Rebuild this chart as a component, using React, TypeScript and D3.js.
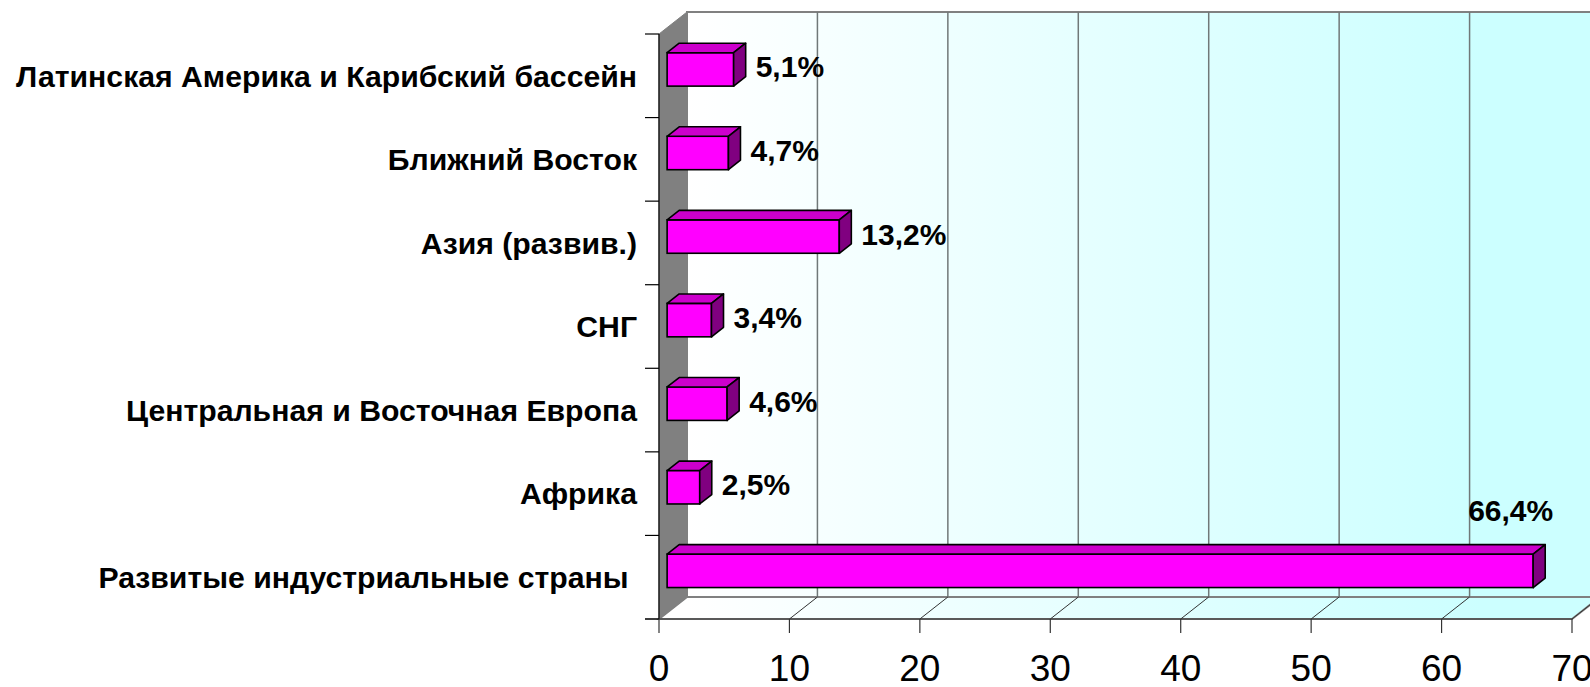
import React from "react";
import * as d3 from "d3";

const categories = [
  "Латинская Америка и Карибский бассейн",
  "Ближний Восток",
  "Азия (развив.)",
  "СНГ",
  "Центральная и Восточная Европа",
  "Африка",
  "Развитые индустриальные страны ",
];
const values = [5.1, 4.7, 13.2, 3.4, 4.6, 2.5, 66.4];
const xTicks = [0, 10, 20, 30, 40, 50, 60, 70];

const W = 1590;
const H = 687;
const FONT = "'Liberation Sans', Arial, sans-serif";

export default function App() {
  // front plane of the 3D box
  const x = d3.scaleLinear().domain([0, 70]).range([659, 1572]);
  const y = d3
    .scaleBand<string>()
    .domain(categories)
    .range([34, 619])
    .paddingInner(0.6)
    .paddingOuter(0.3);
  const step = y.step();
  const bw = y.bandwidth();

  // depth of the box
  const DX = 28;
  const DY = -22;
  const fFront = 0.29;
  const fBack = 0.72;
  const bfx = DX * fFront;
  const bfy = DY * fFront;
  const ddx = DX * (fBack - fFront);
  const ddy = DY * (fBack - fFront);

  const top = 34;
  const bottom = 619;
  const x0 = x(0);
  const xMax = x(70);

  const fmt = (v: number) => v.toFixed(1).replace(".", ",") + "%";
  const labelFs = 30;
  const catFs = 30.2;

  const boundaries = d3.range(categories.length + 1).map((i) => top + i * step);

  return (
    <svg
      width={W}
      height={H}
      style={{ position: "absolute", left: 0, top: 0, background: "#fff" }}
      fontFamily={FONT}
    >
      <defs>
        <linearGradient id="wallGrad" gradientUnits="userSpaceOnUse" x1={x0 + DX} y1={0} x2={1480} y2={0}>
          <stop offset="0" stopColor="#FFFFFF" />
          <stop offset="1" stopColor="#CCFFFF" />
        </linearGradient>
      </defs>
      <rect x={0} y={0} width={W} height={H} fill="#fff" />

      {/* back wall */}
      <rect
        x={x0 + DX}
        y={top + DY}
        width={xMax - x0}
        height={bottom - top}
        fill="url(#wallGrad)"
        stroke="#808080"
        strokeWidth={2}
      />
      {/* floor */}
      <polygon
        points={[
          [x0, bottom],
          [x0 + DX, bottom + DY],
          [xMax + DX, bottom + DY],
          [xMax, bottom],
        ]
          .map((p) => p.join(","))
          .join(" ")}
        fill="url(#wallGrad)"
        stroke="#808080"
        strokeWidth={2}
      />
      {/* side wall */}
      <polygon
        points={[
          [x0, top],
          [x0 + DX, top + DY],
          [x0 + DX, bottom + DY],
          [x0, bottom],
        ]
          .map((p) => p.join(","))
          .join(" ")}
        fill="#808080"
        stroke="#808080"
        strokeWidth={1}
      />
      {/* gridlines on back wall + floor */}
      {xTicks.slice(1).map((t) => (
        <g key={t}>
          <line
            x1={x(t) + DX}
            x2={x(t) + DX}
            y1={top + DY}
            y2={bottom + DY}
            stroke="#707878"
            strokeWidth={1.5}
          />
          <line x1={x(t)} y1={bottom} x2={x(t) + DX} y2={bottom + DY} stroke="#333" strokeWidth={1} />
        </g>
      ))}

      {/* axes */}
      <line x1={x0} x2={x0} y1={top} y2={bottom} stroke="#000" strokeWidth={1.2} />
      <line x1={x0 - 14} x2={xMax} y1={bottom} y2={bottom} stroke="#333" strokeWidth={1.2} />
      {boundaries.map((b, i) => (
        <line key={i} x1={x0 - 14} x2={x0} y1={b} y2={b} stroke="#000" strokeWidth={1.2} />
      ))}
      {xTicks.map((t) => (
        <g key={t}>
          <line x1={x(t)} x2={x(t)} y1={bottom} y2={bottom + 14} stroke="#333" strokeWidth={1.2} />
          <text x={x(t)} y={681} textAnchor="middle" fontSize={37} fill="#000">
            {t}
          </text>
        </g>
      ))}

      {/* category labels */}
      {categories.map((c) => (
        <text
          key={c}
          x={637}
          y={(y(c) as number) + bw / 2 + 10.8}
          textAnchor="end"
          fontSize={catFs}
          fontWeight="bold"
          fill="#000"
          style={{ whiteSpace: "pre" }}
        >
          {c}
        </text>
      ))}

      {/* bars */}
      {categories.map((c, i) => {
        const v = values[i];
        const xa = x(0) + bfx;
        const xb = x(v) + bfx;
        const ya = (y(c) as number) + bfy;
        const yb = ya + bw;
        const topFace = [
          [xa, ya],
          [xa + ddx, ya + ddy],
          [xb + ddx, ya + ddy],
          [xb, ya],
        ];
        const side = [
          [xb, ya],
          [xb + ddx, ya + ddy],
          [xb + ddx, yb + ddy],
          [xb, yb],
        ];
        const label = fmt(v);
        const estW = label.length * 0.6 * labelFs;
        const lx = xb + ddx + 10;
        const above = lx + estW > xMax;
        return (
          <g key={c}>
            <rect x={xa} y={ya} width={xb - xa} height={bw} fill="#FF00FF" stroke="#000" strokeWidth={1.6} />
            <polygon
              points={topFace.map((p) => p.join(",")).join(" ")}
              fill="#CC00CC"
              stroke="#000"
              strokeWidth={1.6}
              strokeLinejoin="round"
            />
            <polygon
              points={side.map((p) => p.join(",")).join(" ")}
              fill="#800080"
              stroke="#000"
              strokeWidth={1.6}
              strokeLinejoin="round"
            />
            {above ? (
              <text
                x={xb + ddx + 8}
                y={ya + ddy - 24}
                textAnchor="end"
                fontSize={labelFs}
                fontWeight="bold"
                fill="#000"
              >
                {label}
              </text>
            ) : (
              <text x={lx} y={ya + bw / 2 + 8} fontSize={labelFs} fontWeight="bold" fill="#000">
                {label}
              </text>
            )}
          </g>
        );
      })}
    </svg>
  );
}
